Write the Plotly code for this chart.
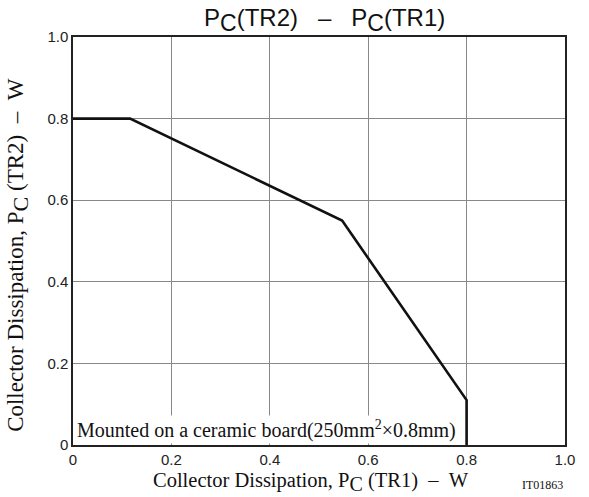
import plotly.graph_objects as go

# Data
pc_tr1 = [0.0, 0.116, 0.547, 0.80, 0.80]
pc_tr2 = [0.80, 0.80, 0.55, 0.11, 0.0]
tick_vals = [0, 0.2, 0.4, 0.6, 0.8, 1.0]
tick_text = ["0", "0.2", "0.4", "0.6", "0.8", "1.0"]

fig = go.Figure()
fig.add_trace(go.Scatter(x=pc_tr1, y=pc_tr2, mode="lines",
                         line=dict(color="#111111", width=2.6),
                         showlegend=False, hoverinfo="skip"))

axis_common = dict(range=[0, 1.0], tickvals=tick_vals, ticktext=tick_text,
                   showgrid=True, gridcolor="#888888", gridwidth=1,
                   zeroline=False, showline=True, linecolor="#222222", linewidth=1.5,
                   mirror=True, ticks="", tickfont=dict(family="Liberation Sans, Arial", size=15, color="#222"))

NB = "&nbsp;"
serif = "Liberation Serif, Times New Roman"


def sub_c(size):
    return "P<sub><span style='font-size:%dpx'>C</span></sub>" % size


fig.update_layout(
    width=589, height=497,
    margin=dict(l=73, r=24, t=37, b=52),
    plot_bgcolor="white", paper_bgcolor="white",
    xaxis=dict(**axis_common),
    yaxis=dict(**axis_common),
    annotations=[
        dict(text=sub_c(23) + "(TR2)" + NB * 3 + "–" + NB * 3 + sub_c(23) + "(TR1)",
             x=0.512, y=1.0, xref="paper", yref="paper",
             xanchor="center", yanchor="middle", yshift=17, showarrow=False,
             font=dict(family="Liberation Sans, Arial", size=24, color="#111")),
        dict(text="Collector Dissipation, " + sub_c(20) + " (TR1)" + NB * 2 + "–" + NB * 2 + "W",
             x=0.484, y=0, xref="paper", yref="paper",
             xanchor="center", yanchor="top", yshift=-22, showarrow=False,
             font=dict(family=serif, size=20.5, color="#111")),
        dict(text="Collector Dissipation, " + sub_c(22) + " (TR2)" + NB * 2 + "–" + NB * 2 + "W",
             x=0, y=0.466, xref="paper", yref="paper",
             xanchor="right", yanchor="middle", xshift=-38, textangle=-90, showarrow=False,
             font=dict(family=serif, size=23, color="#111")),
        dict(text="Mounted on a ceramic board(250mm<sup>2</sup>×0.8mm)", x=0, y=0, xref="paper", yref="paper",
             xanchor="left", yanchor="bottom", xshift=2, yshift=1, showarrow=False, bgcolor="white",
             font=dict(family=serif, size=20, color="#111")),
        dict(text="IT01863", x=1.0, y=0, xref="paper", yref="paper",
             xanchor="right", yanchor="top", yshift=-31, xshift=0, showarrow=False,
             font=dict(family=serif, size=12, color="#111")),
    ],
)

fig.write_html("out.html", post_script="document.body.style.margin='0';",
               config={"displayModeBar": False})
